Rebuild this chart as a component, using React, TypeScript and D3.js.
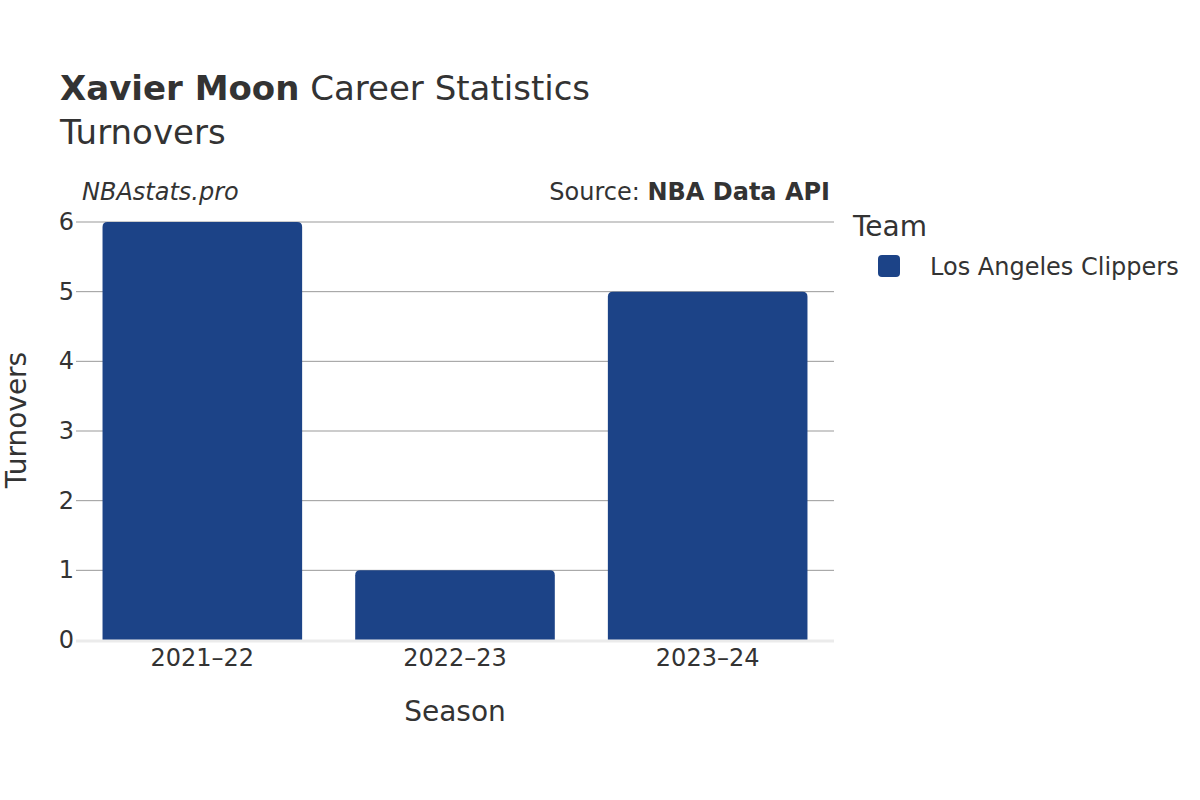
import React from "react";
import * as d3 from "d3";

const seasons = ["2021–22", "2022–23", "2023–24"];
const turnovers = [6, 1, 5];
const yTicks = [0, 1, 2, 3, 4, 5, 6];
const teamName = "Los Angeles Clippers";
const barColor = "#1c4387";

export default function App() {
  const W = 1200, H = 800;
  const left = 76, right = 834, top = 222, bottom = 640;
  const x = d3.scaleBand<string>().domain(seasons).range([left, right]).paddingInner(0.21).paddingOuter(0.105);
  const y = d3.scaleLinear().domain([0, 6]).range([bottom, top]);
  const font = "DejaVu Sans, sans-serif";
  const txt = "#333333";
  return (
    <svg width={W} height={H} style={{ position: "absolute", left: 0, top: 0, background: "#fff" }} fontFamily={font}>
      <text x={60} y={100} fontSize={34} fill={txt}>
        <tspan fontWeight="bold">Xavier Moon</tspan> Career Statistics
      </text>
      <text x={60} y={144} fontSize={34} fill={txt}>Turnovers</text>
      <text x={82} y={200} fontSize={24} fontStyle="italic" fill={txt}>NBAstats.pro</text>
      <text x={830} y={200} fontSize={24} textAnchor="end" fill={txt}>
        Source: <tspan fontWeight="bold">NBA Data API</tspan>
      </text>
      {yTicks.filter(t => t > 0).map(t => (
        <line key={t} x1={left} x2={right} y1={y(t)} y2={y(t)} stroke="#999" strokeWidth={1} />
      ))}
      {yTicks.map(t => (
        <text key={t} x={74} y={y(t) + 8} fontSize={24} textAnchor="end" fill={txt}>{t}</text>
      ))}
      {seasons.map((s, i) => {
        const bx = x(s)!;
        const bw = x.bandwidth();
        const by = y(turnovers[i]);
        const r = 5;
        const path = `M${bx},${bottom} V${by + r} Q${bx},${by} ${bx + r},${by} H${bx + bw - r} Q${bx + bw},${by} ${bx + bw},${by + r} V${bottom} Z`;
        return <path key={s} d={path} fill={barColor} />;
      })}
      <line x1={left} x2={right} y1={bottom + 1} y2={bottom + 1} stroke="#ebebeb" strokeWidth={3} />
      {seasons.map(s => (
        <text key={s} x={x(s)! + x.bandwidth() / 2} y={666} fontSize={24} textAnchor="middle" fill={txt}>{s}</text>
      ))}
      <text x={455} y={721} fontSize={28} textAnchor="middle" fill={txt}>Season</text>
      <text transform={`translate(26,420) rotate(-90)`} fontSize={28} textAnchor="middle" fill={txt}>Turnovers</text>
      <text x={853} y={236} fontSize={28} fill={txt}>Team</text>
      <rect x={878} y={255} width={22} height={22} rx={4} fill={barColor} />
      <text x={930} y={275} fontSize={24} fill={txt}>{teamName}</text>
    </svg>
  );
}
